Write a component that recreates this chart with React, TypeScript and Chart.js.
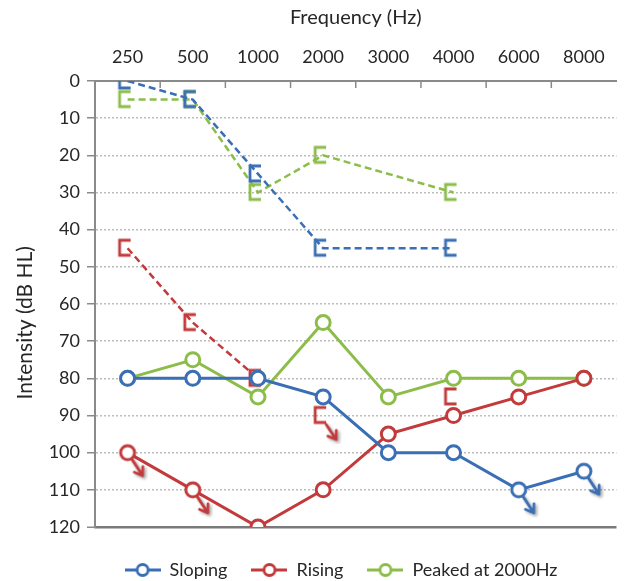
import React, { useEffect, useRef } from 'react';
import { Chart, registerables } from 'chart.js';

Chart.register(...registerables);

// ---------- data ----------
const frequencies = ['250', '500', '1000', '2000', '3000', '4000', '6000', '8000'];
const intensityMin = 0;
const intensityMax = 120;
const intensityStep = 10;

const seriesNames = ['Sloping', 'Rising', 'Peaked at 2000Hz'];

const slopingAir = [80, 80, 80, 85, 100, 100, 110, 105];
const slopingNoResponse = [false, false, false, false, false, false, true, true];
const slopingBone = [0, 5, 25, 45, null, 45, null, null];

const risingAir = [100, 110, 120, 110, 95, 90, 85, 80];
const risingNoResponse = [true, true, false, false, false, false, false, false];
const risingBone = [45, 65, 80, null, null, null, null, null];
const risingBoneSingle = [null, null, null, 90, null, 85, null, null];
const risingBoneSingleNoResponse = [false, false, false, true, false, false, false, false];

const peakedAir = [80, 75, 85, 65, 85, 80, 80, 80];
const peakedBone = [5, 5, 30, 20, null, 30, null, null];

// ---------- style ----------
const BLUE = '#3a6fb5';
const RED = '#c23a3b';
const GREEN = '#8cbd4b';
const TEXT = '#262626';
const AXIS = '#8a8a8a';
const FONT = 'Lato';
const FS = 18;

function drawArrow(g: CanvasRenderingContext2D, x1: number, y1: number, x2: number, y2: number, color: string) {
  g.save();
  g.shadowColor = 'rgba(0,0,0,0.35)';
  g.shadowBlur = 3;
  g.shadowOffsetX = 2;
  g.shadowOffsetY = 2;
  g.strokeStyle = color;
  g.lineWidth = 2.8;
  g.lineCap = 'round';
  g.lineJoin = 'round';
  const ang = Math.atan2(y2 - y1, x2 - x1);
  const hl = 9;
  g.beginPath();
  g.moveTo(x1, y1);
  g.lineTo(x2, y2);
  g.moveTo(x2 + hl * Math.cos(ang + Math.PI - 0.6), y2 + hl * Math.sin(ang + Math.PI - 0.6));
  g.lineTo(x2, y2);
  g.lineTo(x2 + hl * Math.cos(ang + Math.PI + 0.6), y2 + hl * Math.sin(ang + Math.PI + 0.6));
  g.stroke();
  g.restore();
}

function circleArrowCanvas(color: string) {
  const c = document.createElement('canvas');
  c.width = 64;
  c.height = 64;
  const g = c.getContext('2d')!;
  const cx = 32, cy = 32, r = 7;
  const dx = 15, dy = 23;
  const len = Math.hypot(dx, dy);
  drawArrow(g, cx + (dx / len) * r, cy + (dy / len) * r, cx + dx, cy + dy, color);
  g.beginPath();
  g.arc(cx, cy, r, 0, Math.PI * 2);
  g.fillStyle = '#ffffff';
  g.fill();
  g.lineWidth = 3;
  g.strokeStyle = color;
  g.stroke();
  return c;
}

function bracketCanvas(color: string, arrow: boolean) {
  const c = document.createElement('canvas');
  c.width = 56;
  c.height = 56;
  const g = c.getContext('2d')!;
  const cx = 28, cy = 28;
  g.strokeStyle = color;
  g.lineWidth = 2.8;
  g.lineJoin = 'miter';
  g.beginPath();
  g.moveTo(cx + 3, cy - 8);
  g.lineTo(cx - 8, cy - 8);
  g.lineTo(cx - 8, cy + 7);
  g.lineTo(cx + 3, cy + 7);
  g.stroke();
  if (arrow) drawArrow(g, cx + 3, cy + 9, cx + 13, cy + 24, color);
  return c;
}

function legendIcon(color: string) {
  const c = document.createElement('canvas');
  c.width = 36;
  c.height = 18;
  const g = c.getContext('2d')!;
  g.strokeStyle = color;
  g.lineWidth = 2.8;
  g.beginPath();
  g.moveTo(0, 9);
  g.lineTo(36, 9);
  g.stroke();
  g.beginPath();
  g.arc(18, 9, 5.5, 0, Math.PI * 2);
  g.fillStyle = '#ffffff';
  g.fill();
  g.stroke();
  return c;
}

const innerTicks = {
  id: 'innerTicks',
  beforeDatasetsDraw(chart: any) {
    const xs = chart.scales.x;
    const { ctx, chartArea } = chart;
    const n = chart.data.labels.length;
    const half = (xs.getPixelForValue(1) - xs.getPixelForValue(0)) / 2;
    ctx.save();
    ctx.strokeStyle = AXIS;
    ctx.lineWidth = 1.5;
    for (let i = 1; i < n; i++) {
      const px = xs.getPixelForValue(i) - half;
      ctx.beginPath();
      ctx.moveTo(px, chartArea.top);
      ctx.lineTo(px, chartArea.top + 7);
      ctx.stroke();
    }
    ctx.restore();
  },
};

const legendShift = {
  id: 'legendShift',
  afterLayout(chart: any) {
    const l = chart.legend;
    if (l) {
      l.left += 28;
      l.right += 28;
      l.top += 10;
      l.bottom += 10;
    }
  },
};

export default function App() {
  const ref = useRef<HTMLCanvasElement | null>(null);

  useEffect(() => {
    document.body.style.margin = '0';
    if (!ref.current) return;
    const colors = [BLUE, RED, GREEN];
    const icons = colors.map((c) => legendIcon(c));
    const blueArrow = circleArrowCanvas(BLUE);
    const redArrow = circleArrowCanvas(RED);
    const blueBracket = bracketCanvas(BLUE, false);
    const redBracket = bracketCanvas(RED, false);
    const redBracketArrow = bracketCanvas(RED, true);
    const greenBracket = bracketCanvas(GREEN, false);

    const solid = (label: string, data: number[], color: string, noResp: boolean[] | null, arrowImg: any, order: number) => ({
      label,
      data,
      borderColor: color,
      backgroundColor: '#ffffff',
      borderWidth: 3,
      pointRadius: 7,
      pointBorderWidth: 3,
      pointBackgroundColor: '#ffffff',
      pointBorderColor: color,
      pointStyle: data.map((_, i) => (noResp && noResp[i] ? arrowImg : 'circle')),
      tension: 0,
      order,
    });

    const dashed = (label: string, data: (number | null)[], color: string, style: any, order: number, showLine = true) => ({
      label,
      data,
      borderColor: color,
      backgroundColor: color,
      borderWidth: 2.5,
      borderDash: [7, 4],
      pointRadius: 8,
      pointStyle: style,
      spanGaps: true,
      showLine,
      tension: 0,
      order,
    });

    const chart = new Chart(ref.current, {
      type: 'line',
      data: {
        labels: frequencies,
        datasets: [
          solid(seriesNames[0], slopingAir, BLUE, slopingNoResponse, blueArrow, 0),
          solid(seriesNames[1], risingAir, RED, risingNoResponse, redArrow, 1),
          solid(seriesNames[2], peakedAir, GREEN, null, null, 2),
          dashed('Sloping bone', slopingBone, BLUE, blueBracket, 3),
          dashed('Rising bone', risingBone, RED, redBracket, 4),
          dashed(
            'Rising bone single',
            risingBoneSingle,
            RED,
            risingBoneSingle.map((_, i) => (risingBoneSingleNoResponse[i] ? redBracketArrow : redBracket)),
            5,
            false
          ),
          dashed('Peaked bone', peakedBone, GREEN, greenBracket, 6),
        ] as any,
      },
      options: {
        responsive: false,
        animation: false,
        events: [],
        layout: { padding: { left: 0, right: 1, top: 0, bottom: 2 } },
        scales: {
          x: {
            type: 'category',
            position: 'top',
            offset: true,
            grid: { display: false },
            border: { display: true, color: AXIS, width: 2 },
            ticks: { padding: 5, color: TEXT, font: { family: FONT, size: FS } },
            title: {
              display: true,
              text: 'Frequency (Hz)',
              color: TEXT,
              font: { family: FONT, size: 20 },
              padding: { top: 6, bottom: 0 },
            },
            afterFit: (s: any) => {
              s.height = 81;
            },
          },
          y: {
            type: 'linear',
            reverse: true,
            min: intensityMin,
            max: intensityMax,
            ticks: { stepSize: intensityStep, padding: 7, color: TEXT, font: { family: FONT, size: FS } },
            grid: {
              color: (c: any) =>
                c.tick && c.tick.value === intensityMin
                  ? 'rgba(0,0,0,0)'
                  : c.tick && c.tick.value === intensityMax
                  ? '#7a7a7a'
                  : '#bdbdbd',
              lineWidth: (c: any) => (c.tick && c.tick.value === intensityMax ? 2.5 : 1.5),
              tickLength: 8,
              tickColor: AXIS,
              tickWidth: 1.5,
              tickBorderDash: [],
            },
            border: {
              display: true,
              color: AXIS,
              width: 2,
              dash: (c: any) => (c.tick && c.tick.value === intensityMax ? [] : [2, 2]),
            },
            title: {
              display: true,
              text: 'Intensity (dB HL)       ',
              color: TEXT,
              font: { family: FONT, size: 21 },
              padding: { top: 13, bottom: 0 },
            },
            afterFit: (s: any) => {
              s.width = 95;
            },
          },
        },
        plugins: {
          tooltip: { enabled: false },
          legend: {
            position: 'bottom',
            labels: {
              usePointStyle: true,
              pointStyleWidth: 36,
              padding: 24,
              color: TEXT,
              font: { family: FONT, size: FS },
              generateLabels: () =>
                seriesNames.map((name, i) => ({
                  text: name,
                  pointStyle: icons[i],
                  fillStyle: '#ffffff',
                  strokeStyle: colors[i],
                  lineWidth: 0,
                  hidden: false,
                  datasetIndex: i,
                  fontColor: TEXT,
                })),
            },
          },
        },
      } as any,
      plugins: [innerTicks, legendShift],
    });
    return () => chart.destroy();
  }, []);

  return (
    <div style={{ width: 627, height: 581 }}>
      <canvas ref={ref} width={627} height={581} style={{ display: 'block' }} />
    </div>
  );
}
